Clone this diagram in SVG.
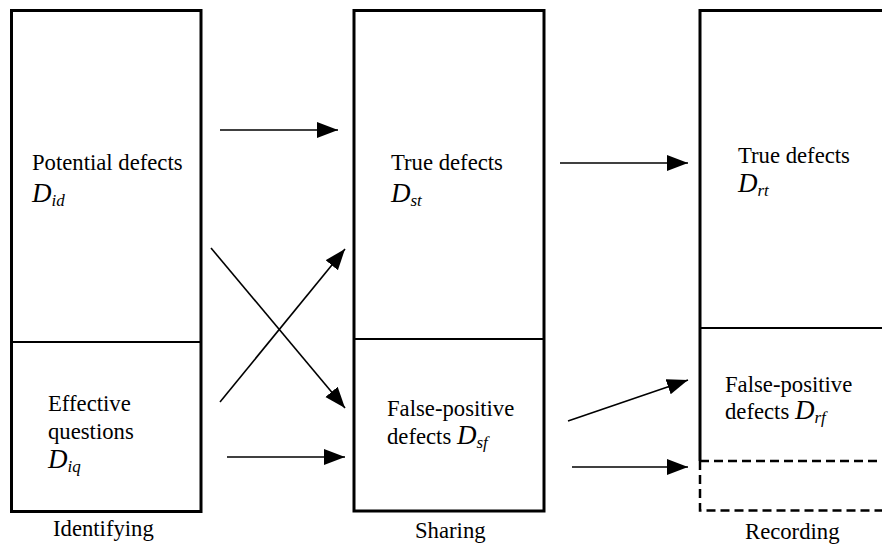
<svg xmlns="http://www.w3.org/2000/svg" width="882" height="546" viewBox="0 0 882 546">
  <style>
    .frame { fill: none; stroke: #000; stroke-width: 3; }
    .split { fill: none; stroke: #000; stroke-width: 2; }
    .dash { fill: none; stroke: #000; stroke-width: 2.5; stroke-dasharray: 9 5; }
    text { font-family: 'Liberation Serif', 'Times New Roman', serif; fill: #000; }
    .lbl { font-size: 22.7px; }
    .var { font-style: italic; font-size: 27px; }
    .sub { font-size: 17px; }
    .flow { fill: none; stroke: #000; stroke-width: 1.6; marker-end: url(#head); }
  </style>
  <defs>
    <marker id="head" markerUnits="userSpaceOnUse" markerWidth="22" markerHeight="17" refX="21" refY="8" orient="auto">
      <path d="M0,0 L21,8 L0,16 z" fill="#000"/>
    </marker>
  </defs>

  <rect width="882" height="546" fill="#fff"/>

  <!-- Identifying stage -->
  <g id="identifying">
    <rect class="frame" x="11.5" y="10.5" width="189.5" height="501"/>
    <line class="split" x1="11.5" y1="342" x2="201" y2="342"/>
    <text class="lbl" x="32" y="170">Potential defects</text>
    <text class="lbl var" x="32" y="202">D<tspan class="sub" dy="4">id</tspan></text>
    <text class="lbl" x="48" y="411">Effective</text>
    <text class="lbl" x="48" y="439">questions</text>
    <text class="lbl var" x="48" y="468">D<tspan class="sub" dy="4">iq</tspan></text>
    <text class="lbl" x="53" y="536">Identifying</text>
  </g>

  <!-- Sharing stage -->
  <g id="sharing">
    <rect class="frame" x="354" y="10.5" width="190" height="500.5"/>
    <line class="split" x1="354" y1="339" x2="544" y2="339"/>
    <text class="lbl" x="391" y="170">True defects</text>
    <text class="lbl var" x="391" y="202">D<tspan class="sub" dy="4">st</tspan></text>
    <text class="lbl" x="387" y="416">False-positive</text>
    <text class="lbl" x="387" y="444">defects <tspan class="var">D</tspan><tspan class="var sub" dy="4">sf</tspan></text>
    <text class="lbl" x="415" y="538">Sharing</text>
  </g>

  <!-- Recording stage (continues past the right edge) -->
  <g id="recording">
    <polyline class="frame" points="884,10.5 700,10.5 700,461"/>
    <line class="split" x1="700" y1="328" x2="884" y2="328"/>
    <line class="dash" x1="700" y1="461" x2="884" y2="461"/>
    <polyline class="dash" points="700,461 700,510.5 884,510.5"/>
    <text class="lbl" x="738" y="163">True defects</text>
    <text class="lbl var" x="738" y="192">D<tspan class="sub" dy="4">rt</tspan></text>
    <text class="lbl" x="725" y="392">False-positive</text>
    <text class="lbl" x="725" y="419">defects <tspan class="var">D</tspan><tspan class="var sub" dy="4">rf</tspan></text>
    <text class="lbl" x="745" y="539">Recording</text>
  </g>

  <!-- Flows between stages -->
  <g id="connectors">
    <line class="flow" x1="220" y1="130" x2="338" y2="130"/>
    <line class="flow" x1="211" y1="248" x2="345" y2="408"/>
    <line class="flow" x1="220" y1="402" x2="345" y2="249"/>
    <line class="flow" x1="227" y1="457" x2="345" y2="457"/>
    <line class="flow" x1="560" y1="163" x2="688" y2="163"/>
    <line class="flow" x1="568" y1="421" x2="688" y2="380"/>
    <line class="flow" x1="572" y1="467" x2="688" y2="467"/>
  </g>
</svg>
